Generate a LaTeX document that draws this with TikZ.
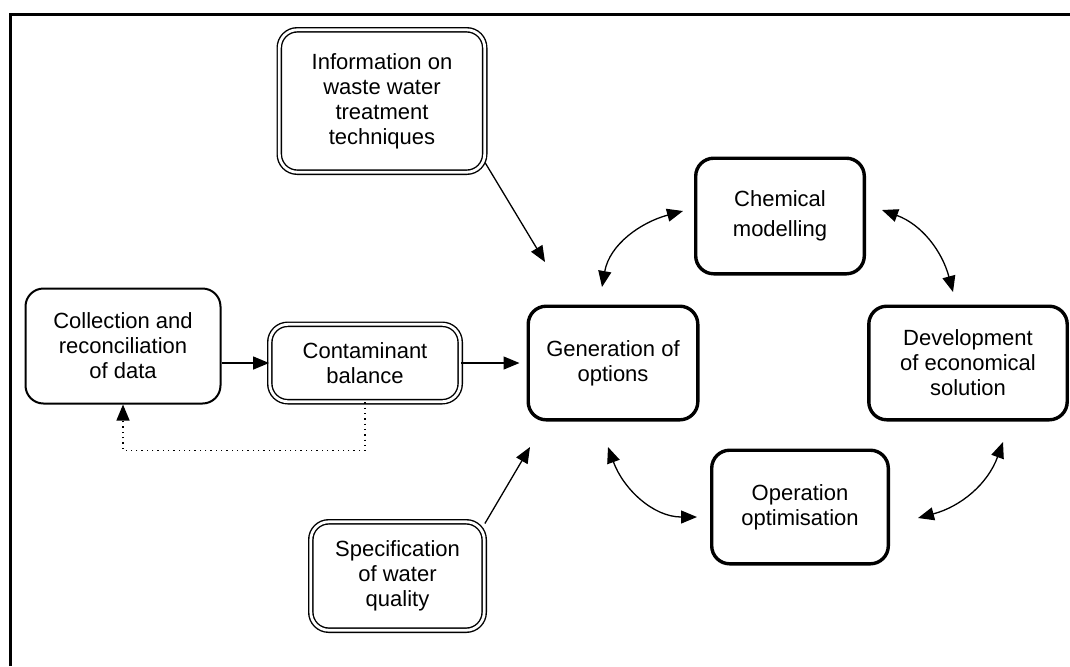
\documentclass[tikz,border=0pt]{standalone}
\usepackage{fontspec}
\setmainfont{Liberation Sans}
\usetikzlibrary{arrows.meta}

\begin{document}
\begin{tikzpicture}[x=0.5pt,y=0.5pt,
    box/.style={draw,rounded corners=9pt,align=center,inner sep=0pt,font=\fontsize{11}{12.5}\selectfont},
    bold box/.style={box,line width=1.7pt},
    thin box/.style={box,line width=1pt},
    double box/.style={box,line width=0.7pt,double,double distance=1.4pt},
    link/.style={line width=0.65pt,-{Triangle[length=8pt,width=6.5pt]}},
    both/.style={line width=0.65pt,{Triangle[length=8pt,width=6.5pt]}-{Triangle[length=8pt,width=6.5pt]}}]
    \useasboundingbox (0,0) rectangle (1070,-666);

    % frame
    \draw[line width=1.5pt] (10,-666) -- (10,-14) -- (1070,-14);

    \node[double box,minimum width=102.7pt,minimum height=71.2pt] (info) at (382,-101) {Information on\\waste water\\treatment\\techniques};
    \node[thin box,minimum width=97.5pt,minimum height=57.5pt] (collect) at (123,-346) {Collection and\\reconciliation\\of data};
    \node[double box,minimum width=95.2pt,minimum height=38.7pt] (balance) at (365,-363) {Contaminant\\balance};
    \node[bold box,minimum width=84.8pt,minimum height=56.8pt] (gen) at (613,-363) {Generation of\\options};
    \node[bold box,minimum width=84.3pt,minimum height=57.8pt] (chem) at (780,-216) {Chemical\\[2.5pt]modelling};
    \node[bold box,minimum width=99.2pt,minimum height=56.8pt] (devel) at (968,-363) {Development\\of economical\\solution};
    \node[bold box,minimum width=88.3pt,minimum height=56.8pt] (oper) at (800,-507) {Operation\\optimisation};
    \node[double box,minimum width=86.7pt,minimum height=54.2pt] (spec) at (397.5,-576) {Specification\\of water\\quality};

    % arrow tips near the nodes
    \coordinate (g0) at (545,-262);
    \coordinate (g1) at (602,-287);
    \coordinate (g2) at (608,-447);
    \coordinate (g3) at (530,-447);
    \coordinate (c1) at (683,-211);
    \coordinate (c2) at (882,-210);
    \coordinate (d1) at (953,-292);
    \coordinate (d2) at (1003,-442);
    \coordinate (o1) at (697,-517);
    \coordinate (o2) at (918,-518);

    \draw[link] (collect.east |- balance.west) -- (balance.west);
    \draw[link,shorten >=3.5pt] (balance.east) -- (gen.west);
    \draw[link] (info.-31) -- (g0);
    \draw[link] (spec.31) -- (g3);
    \draw[link,dotted] (balance.south) -- ++(0,-48) -| (collect.south);

    \draw[both] (g1) to[out=80,in=195] (c1);
    \draw[both] (c2) to[out=-20,in=105] (d1);
    \draw[both] (g2) to[out=-70,in=180] (o1);
    \draw[both] (o2) to[out=15,in=-110] (d2);

\end{tikzpicture}
\end{document}
